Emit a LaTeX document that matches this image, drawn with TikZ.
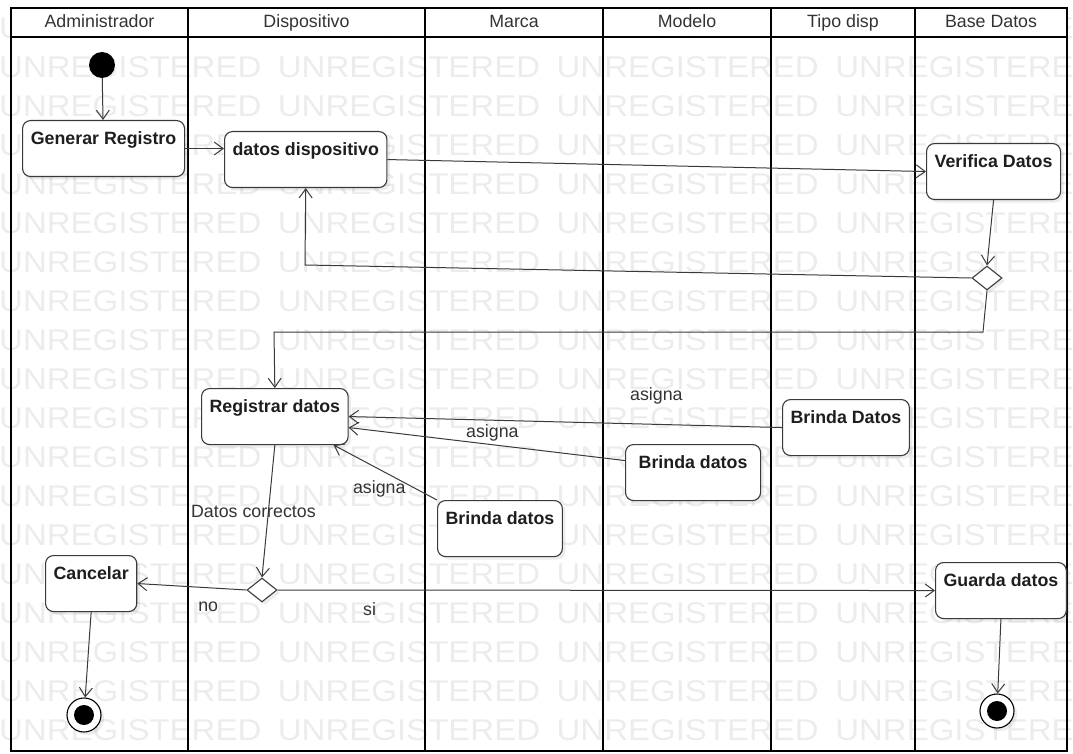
\documentclass[tikz,border=0pt]{standalone}
\usepackage{fontspec}
\setmainfont{Liberation Sans}
\usepackage{tikz}
\usetikzlibrary{arrows.meta,positioning,shapes.geometric,shadows}
\definecolor{wmark}{HTML}{ECECEC}
\definecolor{edge}{HTML}{3A3A3A}
\definecolor{ink}{HTML}{1E1E1E}

\begin{document}
\begin{tikzpicture}[x=1pt, y=-1pt,
  wm/.style={anchor=west, inner sep=0, text=wmark, font=\fontsize{30}{30}\selectfont, xscale=1.1},
  lane/.style={draw=black, line width=2pt},
  lanehead/.style={font=\fontsize{17.8}{20}\selectfont, text=black!80, text height=13, text depth=4},
  act/.style={draw=edge, line width=1.1pt, rounded corners=8pt, fill=white, anchor=north west,
    minimum height=56, text height=18, text depth=26, inner xsep=8, inner ysep=6,
    font=\bfseries\fontsize{17.8}{20}\selectfont, text=ink,
    drop shadow={shadow xshift=3pt, shadow yshift=-3pt, opacity=0.15}},
  decision/.style={diamond, draw=edge, line width=1.1pt, fill=white, minimum width=30, minimum height=24,
    inner sep=0, drop shadow={shadow xshift=3pt, shadow yshift=-3pt, opacity=0.15}},
  startdot/.style={circle, fill=black, minimum size=26, inner sep=0},
  enddot/.style={circle, draw=black, line width=1.1pt, fill=white, minimum size=34, inner sep=0,
    drop shadow={shadow xshift=3pt, shadow yshift=-3pt, opacity=0.15},
    path picture={\fill[black] (path picture bounding box.center) circle (10pt);}},
  flow/.style={draw=edge, line width=1pt, -{Straight Barb[length=9pt,width=13pt]}},
  lbl/.style={font=\fontsize{17.8}{20}\selectfont, text=black!80}]

  \useasboundingbox (0,0) rectangle (1073,754);
  \clip (0,0) rectangle (1073,754);

  % Watermark
  \foreach \row in {0,...,18} {
    \foreach \col in {0,...,3} {
      \node[wm] (wm-\row-\col) at ({-1+278.7*\col}, {28+39*\row}) {UNREGISTERED};
    }
  }

  % Lanes
  \draw[lane] (11,8) rectangle (1067,751);
  \filldraw[lane, fill=white] (11,8) rectangle (1067,37);
  \foreach \x in {188,425,603,771,915}
    \draw[lane] (\x,8) -- (\x,751);

  \node[lanehead] (hadmin) at (99.5,23) {Administrador};
  \node[lanehead] (hdisp) at (306.5,23) {Dispositivo};
  \node[lanehead] (hmarca) at (514,23) {Marca};
  \node[lanehead] (hmodelo) at (687,23) {Modelo};
  \node[lanehead] (htipo) at (843,23) {Tipo disp};
  \node[lanehead] (hbase) at (991,23) {Base Datos};

  % Activities
  \node[startdot] (start) at (102,65) {};
  \node[act, minimum width=162] (gen) at (22,120) {Generar Registro};
  \node[act, minimum width=162] (datos) at (224,131) {datos dispositivo};
  \node[act, minimum width=134] (verif) at (926,143) {Verifica Datos};
  \node[decision] (d1) at (987,278) {};
  \node[act, minimum width=146] (reg) at (201,388) {Registrar datos};
  \node[act, minimum width=125] (brtipo) at (782,399) {Brinda Datos};
  \node[act, minimum width=135] (brmodelo) at (625,444) {Brinda datos};
  \node[act, minimum width=122] (brmarca) at (437,500) {Brinda datos};
  \node[decision] (d2) at (262,590) {};
  \node[act, minimum width=89] (canc) at (45,555) {Cancelar};
  \node[act, minimum width=130] (guarda) at (935,562) {Guarda datos};
  \node[enddot] (fin1) at (84,715) {};
  \node[enddot] (fin2) at (997,711) {};

  % Flow
  \draw[flow] (start) -- (gen);
  \draw[flow] (gen.east) -- (gen.east -| datos.west);
  \draw[flow] (datos.east) -- (verif.west);
  \draw[flow] (verif.south) -- (d1.north);
  \coordinate (back) at (305,265);
  \draw[flow] (d1.west) -- (back) -- (datos.south);
  \coordinate (down1) at (983,332);
  \coordinate (down2) at (274,332);
  \draw[flow] (d1.south) -- (down1) -- (down2) -- (reg.north);
  \draw[flow] (brtipo.west) -- (reg.east) node[lbl, pos=0.29, above=16pt] {asigna};
  \draw[flow] ([yshift=12pt]brmodelo.west) -- ([yshift=-11pt]reg.east) node[lbl, pos=0.48, above] {asigna};
  \draw[flow] (brmarca.north west) -- ([xshift=-15pt]reg.south east) node[lbl, pos=0.2, left=7pt] {asigna};
  \draw[flow] (reg.south) -- (d2.north) node[lbl, pos=0.5, xshift=-15pt] {Datos correctos};
  \draw[flow] (d2.west) -- (canc.east) node[lbl, pos=0.35, below=10pt] {no};
  \draw[flow] (d2.east) -- (guarda.west) node[lbl, pos=0.14, below=9pt] {si};
  \draw[flow] (canc.south) -- (fin1);
  \draw[flow] (guarda.south) -- (fin2);
\end{tikzpicture}
\end{document}
